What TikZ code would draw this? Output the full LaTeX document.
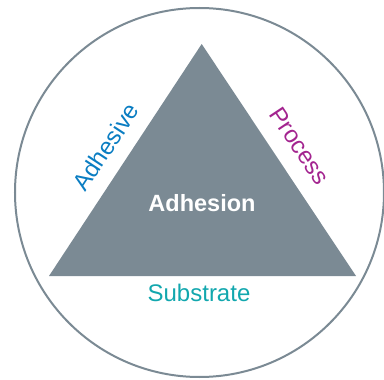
\documentclass[tikz,border=0pt]{standalone}
\usepackage{fontspec}
\setmainfont{Liberation Sans}
\usetikzlibrary{calc}
\definecolor{slate}{HTML}{7B8A94}
\definecolor{adhblue}{HTML}{0A7DC2}
\definecolor{procmag}{HTML}{A3248F}
\definecolor{subteal}{HTML}{12A7AE}
\begin{document}
\begin{tikzpicture}[x=1pt,y=-1pt,
  lbl/.style={inner sep=0pt,anchor=base,font=\fontsize{24}{28}\selectfont}]
\useasboundingbox (0,0) rectangle (384,380);
\node[circle,draw=slate,line width=2pt,minimum size=369pt,inner sep=0pt] (ring) at (199.5,192.5) {};
\coordinate (top) at (201.7,44);
\coordinate (bl) at (49,276);
\coordinate (br) at (356,276);
\fill[slate] (top) -- (bl) -- (br) -- cycle;
\node[lbl,text=white,font=\bfseries\fontsize{23.5}{28}\selectfont] (adhesion) at (202,211.5) {Adhesion};
\node[lbl,text=subteal] (substrate) at (199,301.5) {Substrate};
\node[lbl,text=adhblue,rotate=56.64] (adhesive) at ($($(bl)!0.5!(top)$)!15pt!90:(top)$) {Adhesive};
\node[lbl,text=procmag,rotate=-56.36] (process) at ($($(top)!0.5!(br)$)!17pt!90:(br)$) {Process};
\end{tikzpicture}
\end{document}
